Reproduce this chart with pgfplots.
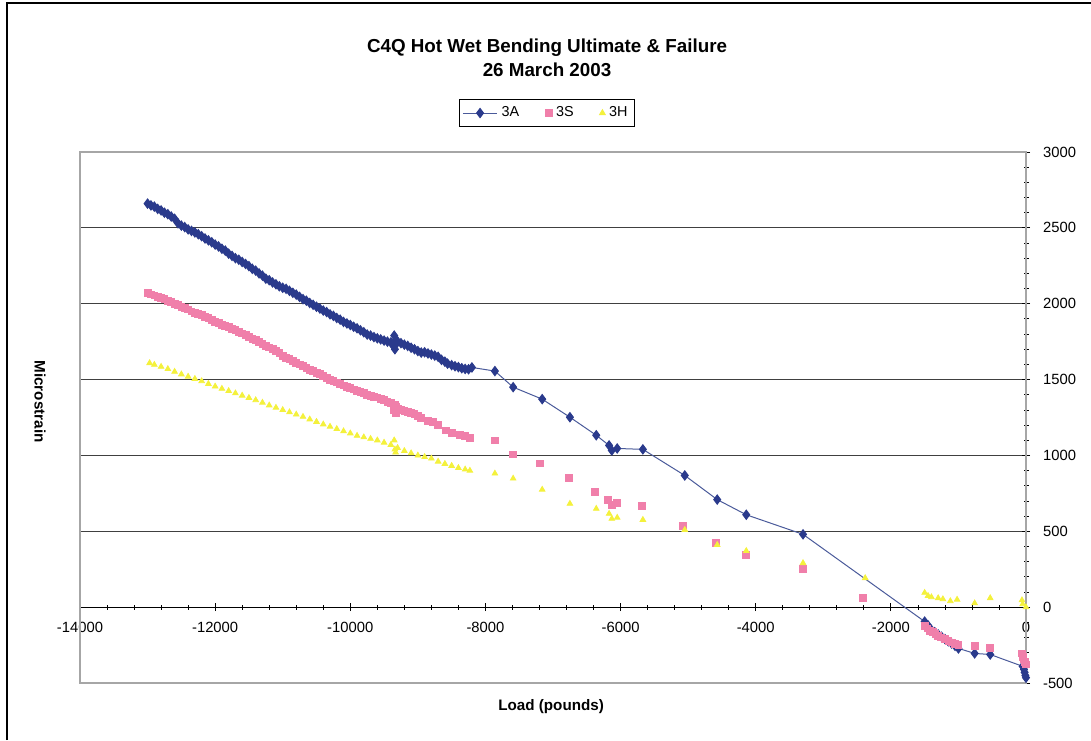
\documentclass[border=0pt]{standalone}
\usepackage{pgfplots}
\pgfplotsset{compat=1.18}
\usepackage{fontspec}
\setmainfont{Liberation Sans}
\definecolor{navy}{HTML}{2A3A8C}
\definecolor{navyline}{HTML}{4A5A9A}
\definecolor{pinkc}{HTML}{F07FAA}
\definecolor{yelc}{HTML}{F4F13C}
\begin{document}
\begin{tikzpicture}
\useasboundingbox (0,0) rectangle (545.5pt,370pt);
\draw[line width=1pt,black] (3.5pt,0) -- (3.5pt,368.5pt) -- (545.5pt,368.5pt);
\begin{axis}[
  at={(40pt,28.5pt)}, anchor=south west,
  scale only axis, width=473pt, height=265.5pt,
  xmin=-14000, xmax=0, ymin=-500, ymax=3000,
  axis x line=middle, axis y line=right,
  every inner x axis line/.append style={-},
  every outer y axis line/.append style={-},
  every inner y axis line/.append style={-},
  every outer x axis line/.append style={-},
  axis line style={black, line width=0.5pt},
  hide obscured x ticks=false, hide obscured y ticks=false,
  xtick={-14000,-12000,...,0},
  ytick={-500,0,...,3000},
  scaled x ticks=false, scaled y ticks=false,
  minor x tick num=4, minor y tick num=4,
  tick align=center,
  major tick length=4pt, minor tick length=2.5pt,
  tick style={black, line width=0.4pt},
  ymajorgrids, grid style={black!75, line width=0.5pt},
  /pgf/number format/assume math mode=true,
  /pgf/number format/set thousands separator={},
  ticklabel style={font=\fontsize{7.4}{8}\selectfont},
  xticklabel style={yshift=-2pt},
  yticklabel style={xshift=3pt},
  title={C4Q Hot Wet Bending Ultimate \& Failure\\26 March 2003},
  title style={at={(0.4937,1.155)}, anchor=center, align=center, font=\bfseries\fontsize{9.4}{12}\selectfont},
  xlabel={Load (pounds)},
  xlabel style={at={(axis description cs:0.498,-0.045)}, anchor=center, font=\bfseries\fontsize{7.6}{8}\selectfont},
  ylabel={Microstrain},
  ylabel style={at={(axis description cs:-0.0423,0.53)}, anchor=center, rotate=180, font=\bfseries\fontsize{7.6}{8}\selectfont},
  legend columns=3,
  legend style={at={(0.4937,1.0734)}, anchor=center, draw=black, line width=0.5pt,
    font=\fontsize{7.2}{8}\selectfont, inner sep=1.5pt,
    /tikz/every even column/.append style={column sep=11pt}},
  clip=false,
]
\draw[gray!70, line width=0.6pt] (rel axis cs:0,0) rectangle (rel axis cs:1,1);
\addplot[navyline, line width=0.5pt, mark=diamond*, mark size=2.3pt, mark options={navy, fill=navy, solid}] coordinates {
(-13000,2660) (-12950,2648) (-12900,2640) (-12850,2625) (-12800,2615) (-12750,2600)
(-12700,2590) (-12650,2575) (-12600,2560) (-12550,2530) (-12500,2515) (-12450,2505)
(-12400,2490) (-12350,2480) (-12300,2470) (-12250,2458) (-12200,2445) (-12150,2430)
(-12100,2418) (-12050,2405) (-12000,2390) (-11950,2378) (-11900,2362) (-11850,2350)
(-11800,2330) (-11750,2315) (-11700,2300) (-11650,2290) (-11600,2275) (-11550,2262)
(-11500,2248) (-11450,2230) (-11400,2218) (-11350,2200) (-11300,2185) (-11250,2165)
(-11200,2155) (-11150,2140) (-11100,2128) (-11050,2115) (-11000,2105) (-10950,2098)
(-10900,2085) (-10850,2072) (-10800,2060) (-10750,2045) (-10700,2030) (-10650,2020)
(-10600,2005) (-10550,1993) (-10500,1980) (-10450,1968) (-10400,1955) (-10350,1945)
(-10300,1930) (-10250,1920) (-10200,1906) (-10150,1895) (-10100,1880) (-10050,1870)
(-10000,1860) (-9950,1848) (-9900,1838) (-9850,1825) (-9800,1812) (-9750,1797)
(-9700,1790) (-9650,1780) (-9600,1772) (-9550,1765) (-9500,1757) (-9450,1750)
(-9400,1745) (-9360,1720) (-9350,1790) (-9340,1700) (-9330,1760) (-9320,1735)
(-9300,1752) (-9250,1740) (-9200,1730) (-9150,1722) (-9100,1710) (-9050,1700)
(-9000,1688) (-8950,1678) (-8900,1680) (-8850,1672) (-8800,1665) (-8750,1658)
(-8700,1650) (-8650,1630) (-8600,1618) (-8560,1605) (-8500,1595) (-8450,1588)
(-8400,1582) (-8350,1575) (-8300,1570) (-8250,1568) (-8200,1580) (-7860,1556)
(-7590,1450) (-7160,1371) (-6750,1252) (-6360,1133) (-6170,1066) (-6130,1033)
(-6050,1046) (-5670,1040) (-5050,868) (-4570,709) (-4140,609) (-3300,480)
(-1500,-95) (-1450,-120) (-1400,-150) (-1350,-165) (-1300,-180) (-1250,-195)
(-1200,-210) (-1150,-225) (-1100,-240) (-1050,-255) (-1000,-272) (-760,-305)
(-530,-312) (-50,-390) (-30,-410) (-20,-430) (-10,-450) (0,-465)
};
\addlegendentry{3A}
\addplot[only marks, mark=square*, mark size=1.7pt, mark options={pinkc, fill=pinkc}] coordinates {
(-13000,2070) (-12950,2062) (-12900,2055) (-12850,2045) (-12800,2040) (-12750,2030)
(-12700,2020) (-12650,2010) (-12600,2000) (-12550,1990) (-12500,1978) (-12450,1970)
(-12400,1962) (-12350,1950) (-12300,1942) (-12250,1932) (-12200,1925) (-12150,1915)
(-12100,1905) (-12050,1895) (-12000,1882) (-11950,1872) (-11900,1862) (-11850,1855)
(-11800,1845) (-11750,1835) (-11700,1825) (-11650,1815) (-11600,1805) (-11550,1792)
(-11500,1780) (-11450,1770) (-11400,1760) (-11350,1748) (-11300,1735) (-11250,1722)
(-11200,1712) (-11150,1700) (-11100,1688) (-11050,1675) (-11000,1655) (-10950,1645)
(-10900,1635) (-10850,1622) (-10800,1610) (-10750,1600) (-10700,1588) (-10650,1578)
(-10600,1565) (-10550,1555) (-10500,1545) (-10450,1535) (-10400,1522) (-10350,1512)
(-10300,1500) (-10250,1490) (-10200,1482) (-10150,1472) (-10100,1462) (-10050,1452)
(-10000,1445) (-9950,1435) (-9900,1425) (-9850,1418) (-9800,1410) (-9750,1400)
(-9700,1395) (-9650,1388) (-9600,1382) (-9550,1372) (-9500,1365) (-9450,1355)
(-9400,1348) (-9360,1300) (-9340,1335) (-9330,1280) (-9320,1320) (-9300,1310)
(-9250,1300) (-9200,1295) (-9150,1285) (-9100,1280) (-9050,1275) (-9000,1258)
(-8950,1245) (-8850,1230) (-8780,1220) (-8700,1200) (-8580,1165) (-8500,1150)
(-8380,1135) (-8300,1128) (-8230,1115) (-7860,1099) (-7590,1007) (-7190,947)
(-6760,854) (-6380,762) (-6190,709) (-6130,676) (-6050,689) (-5680,669)
(-5080,536) (-4590,424) (-4140,344) (-3300,252) (-2410,60) (-1500,-125)
(-1460,-140) (-1420,-155) (-1380,-165) (-1340,-178) (-1300,-190) (-1260,-200)
(-1200,-210) (-1150,-222) (-1100,-232) (-1050,-240) (-1000,-248) (-760,-258)
(-530,-268) (-60,-305) (-50,-330) (-40,-345) (-20,-360) (0,-378)
};
\addlegendentry{3S}
\addplot[only marks, mark=triangle*, mark size=1.6pt, mark options={yelc, fill=yelc}] coordinates {
(-12970,1609) (-12900,1598) (-12800,1585) (-12700,1570) (-12600,1552) (-12500,1535)
(-12400,1520) (-12300,1505) (-12200,1490) (-12100,1472) (-12000,1455) (-11900,1440)
(-11800,1425) (-11700,1410) (-11600,1395) (-11500,1380) (-11400,1365) (-11300,1348)
(-11200,1330) (-11100,1315) (-11000,1300) (-10900,1285) (-10800,1270) (-10700,1255)
(-10600,1238) (-10500,1222) (-10400,1205) (-10300,1190) (-10200,1175) (-10100,1160)
(-10000,1146) (-9900,1130) (-9800,1120) (-9700,1110) (-9600,1100) (-9500,1085)
(-9400,1070) (-9350,1100) (-9340,1040) (-9330,1020) (-9300,1050) (-9200,1030)
(-9100,1015) (-9000,1000) (-8900,990) (-8800,980) (-8700,960) (-8600,945)
(-8500,932) (-8400,918) (-8300,908) (-8230,900) (-7860,881) (-7590,848)
(-7160,775) (-6750,682) (-6360,649) (-6170,616) (-6130,583) (-6050,590)
(-5670,576) (-5050,510) (-4570,411) (-4140,371) (-3300,291) (-2380,192)
(-1500,95) (-1450,75) (-1400,66) (-1300,60) (-1230,53) (-1120,40)
(-1020,50) (-760,26) (-530,60) (-60,46) (-50,20) (0,0)
};
\addlegendentry{3H}
\end{axis}
\end{tikzpicture}
\end{document}
